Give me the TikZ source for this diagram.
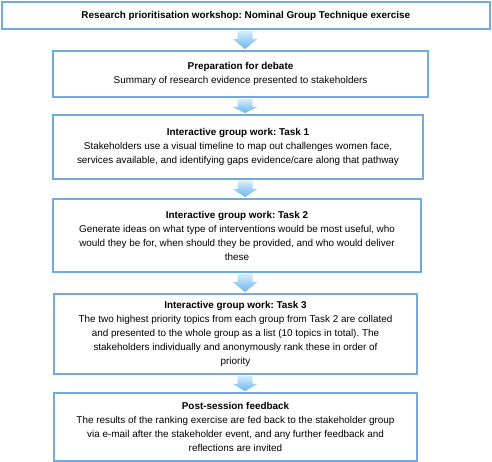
\documentclass[tikz,border=0pt]{standalone}
\usepackage{fontspec}
\setmainfont{Liberation Sans}
\usetikzlibrary{calc}
\definecolor{boxblue}{RGB}{112,170,226}
\definecolor{arrtop}{RGB}{214,237,252}
\definecolor{arrbot}{RGB}{104,182,238}
\tikzset{
  x=1pt, y=-1pt,
  stepbox/.style={draw=boxblue, line width=1.8pt, fill=white, align=center, inner sep=0pt,
    font=\fontsize{9.9}{14}\selectfont\frenchspacing},
}
\newcommand{\blockarrow}[2]{%
  \shade[top color=arrtop, bottom color=arrbot]
    ($(#1.south -| ax)+(-7.5,0.9)$) -- ($(#1.south -| ax)+(7.5,0.9)$) --
    ($(#1.south -| ax)+(7.5,9)$) -- ($(#1.south -| ax)+(12.5,9)$) --
    ($(#2.north -| ax)+(0,-1)$) --
    ($(#1.south -| ax)+(-12.5,9)$) -- ($(#1.south -| ax)+(-7.5,9)$) -- cycle;}
\begin{document}
\begin{tikzpicture}
\useasboundingbox (0,0) rectangle (492,462);
\coordinate (ax) at (245,0);
\node[stepbox, minimum width=488, minimum height=27] (b1) at (245.75,15.5)
  {\textbf{Research prioritisation workshop: Nominal Group Technique exercise}};
\node[stepbox, minimum width=375, minimum height=46] (b2) at (240.5,74)
  {\textbf{Preparation for debate}\\Summary of research evidence presented to stakeholders};
\node[stepbox, minimum width=370, minimum height=64] (b3) at (238,147)
  {\textbf{Interactive group work: Task 1}\\Stakeholders use a visual timeline to map out challenges women face,\\services available, and identifying gaps evidence/care along that pathway};
\node[stepbox, minimum width=368, minimum height=73] (b4) at (237,235.5)
  {\textbf{Interactive group work: Task 2}\\Generate ideas on what type of interventions would be most useful, who\\would they be for, when should they be provided, and who would deliver\\these};
\node[stepbox, minimum width=363, minimum height=80] (b5) at (235.5,334)
  {\textbf{Interactive group work: Task 3}\\The two highest priority topics from each group from Task 2 are collated\\and presented to the whole group as a list (10 topics in total). The\\stakeholders individually and anonymously rank these in order of\\priority};
\node[stepbox, minimum width=363, minimum height=68] (b6) at (235.5,427)
  {\textbf{Post-session feedback}\\The results of the ranking exercise are fed back to the stakeholder group\\via e-mail after the stakeholder event, and any further feedback and\\reflections are invited};
\blockarrow{b1}{b2}
\blockarrow{b2}{b3}
\blockarrow{b3}{b4}
\blockarrow{b4}{b5}
\blockarrow{b5}{b6}
\end{tikzpicture}
\end{document}
